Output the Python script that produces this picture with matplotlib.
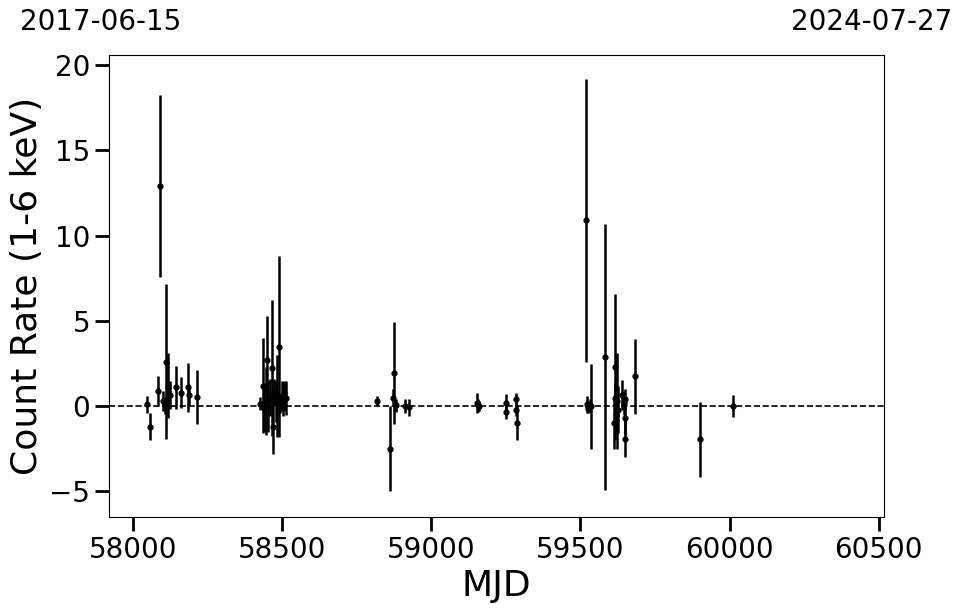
import matplotlib
matplotlib.use("Agg")
import matplotlib.pyplot as plt
import numpy as np

# Observations: MJD, count rate (1-6 keV), 1-sigma error
mjd = [
    58048, 58058, 58082, 58090, 58101, 58106, 58110, 58117, 58125, 58144, 58161, 58184, 58186, 58214,
    58425, 58436, 58440, 58445, 58448, 58452, 58458, 58464, 58468, 58472, 58478, 58482, 58489,
    58494, 58498, 58503, 58507, 58510, 58513,
    58819, 58861, 58873, 58875, 58881, 58912, 58925,
    59152, 59155, 59160, 59250, 59252, 59283, 59284, 59286,
    59519, 59521, 59524, 59527, 59531, 59536, 59583, 59612, 59615, 59617, 59619, 59622, 59625,
    59640, 59646, 59648, 59650, 59651, 59683,
    59901, 60011,
]
rate = [
    0.1, -1.2, 0.9, 12.9, 0.3, 0.05, 2.6, 1.2, 0.65, 1.1, 0.8, 1.1, 0.65, 0.55,
    0.15, 1.2, -0.1, 0.3, 2.7, 0.0, 0.5, 2.25, -1.2, 0.8, 0.3, 0.6, 3.5,
    0.1, 0.6, 0.4, 0.8, 0.5, 0.5,
    0.3, -2.5, 0.5, 1.95, 0.05, 0.0, -0.05,
    0.2, 0.05, 0.0, 0.2, -0.35, 0.4, -0.2, -1.0,
    10.9, 0.1, 0.0, -0.1, 0.05, 0.0, 2.9, -1.0, 2.3, 0.5, -0.5, 0.3, -0.2,
    0.65, 0.2, -0.7, 0.4, -1.9, 1.75,
    -1.95, 0.0,
]
err = [
    0.5, 0.8, 0.9, 5.35, 0.6, 0.5, 4.55, 1.9, 0.8, 1.25, 0.9, 1.45, 0.6, 1.6,
    0.4, 2.8, 1.4, 2.0, 2.6, 1.5, 1.1, 4.0, 1.6, 0.8, 1.2, 2.4, 5.3,
    0.5, 0.9, 1.0, 0.7, 0.8, 1.0,
    0.3, 2.5, 0.5, 3.0, 0.4, 0.4, 0.5,
    0.6, 0.4, 0.3, 0.5, 0.4, 0.4, 0.4, 1.0,
    8.3, 0.5, 0.3, 0.3, 0.4, 2.5, 7.8, 1.5, 4.3, 0.9, 1.2, 2.8, 1.4,
    0.9, 0.7, 1.0, 0.6, 1.1, 2.2,
    2.2, 0.65,
]

x_limits = (57919, 60518)
date_labels = ["2017-06-15", "2024-07-27"]

fig = plt.figure(figsize=(9.62, 6.13), dpi=100)
ax = fig.add_axes([109 / 962, 1 - 517 / 613, (884 - 109) / 962, (517 - 55) / 613])

ax.errorbar(mjd, rate, yerr=err, fmt="o", color="black", ecolor="black",
            ms=3.5, elinewidth=1.8, capsize=0, zorder=3)
ax.axhline(0, color="black", ls="--", lw=1.2, zorder=2)

ax.set_xlim(*x_limits)
ax.set_ylim(-6.5, 20.6)
ax.set_xticks([58000, 58500, 59000, 59500, 60000, 60500])
ax.set_yticks([-5, 0, 5, 10, 15, 20])
ax.tick_params(axis="both", labelsize=20, length=10, width=2, direction="out")
ax.set_xlabel("MJD", fontsize=26)
ax.set_ylabel("Count Rate (1-6 keV)", fontsize=26)

fig.text(20 / 962, 1 - 22 / 613, date_labels[0], fontsize=20, ha="left", va="center")
fig.text(952 / 962, 1 - 22 / 613, date_labels[1], fontsize=20, ha="right", va="center")

fig.savefig("out.png", dpi=100)
